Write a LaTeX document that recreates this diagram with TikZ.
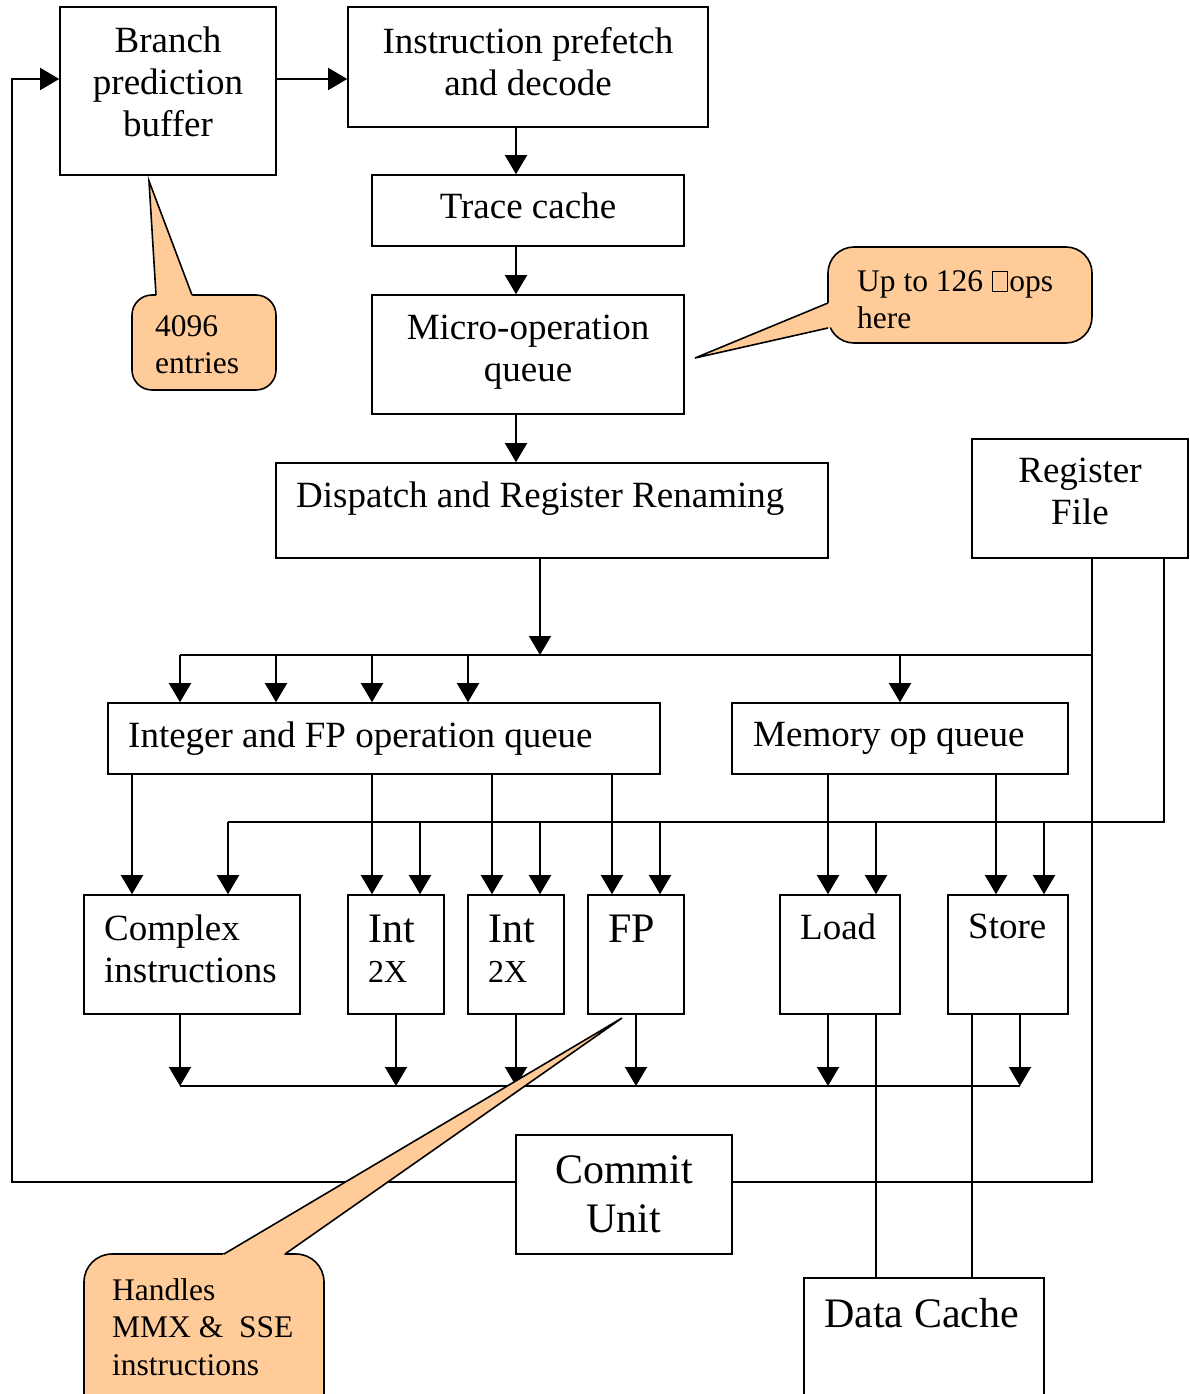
\documentclass[tikz,border=0pt]{standalone}
\usepackage{fontspec}
\setmainfont{Liberation Serif}
\usetikzlibrary{arrows.meta,fit,calc}

\definecolor{callfill}{RGB}{255,204,153}

% placeholder glyph box as printed in the note text
\newcommand{\notdefglyph}{\kern0.03em{\fboxsep=0pt\fboxrule=0.9pt\fbox{\rule{0pt}{0.62em}\hspace{0.46em}}}\kern0.03em}

\begin{document}
\begin{tikzpicture}[x=1pt,y=-1pt,
  box/.style={draw, line width=1.6pt, inner sep=0pt},
  wire/.style={line width=1.6pt},
  arr/.style={wire, -{Triangle[length=19pt,width=22pt]}},
  txt/.style={inner sep=0pt, font=\fontsize{37}{42}\selectfont},
  bigtxt/.style={inner sep=0pt, font=\fontsize{42}{49}\selectfont},
  smalltxt/.style={inner sep=0pt, font=\fontsize{32}{37}\selectfont},
  notetxt/.style={inner sep=0pt, font=\fontsize{31.5}{37.5}\selectfont, anchor=north west, align=left},
  callout/.style={draw, line width=1.6pt, fill=callfill},
]
\useasboundingbox (0,0) rectangle (1190,1394);

% ---- blocks ----
\node[box, fit={(60,7) (276,175)}] (bpb) {};
\node[box, fit={(348,7) (708,127)}] (ipd) {};
\node[box, fit={(372,175) (684,246)}] (tc) {};
\node[box, fit={(372,295) (684,414)}] (uq) {};
\node[box, fit={(276,463) (828,558)}] (drr) {};
\node[box, fit={(972,439) (1188,558)}] (rf) {};
\node[box, fit={(108,703) (660,774)}] (ifq) {};
\node[box, fit={(732,703) (1068,774)}] (moq) {};
\node[box, fit={(84,895) (300,1014)}] (cx) {};
\node[box, fit={(348,895) (444,1014)}] (int1) {};
\node[box, fit={(468,895) (564,1014)}] (int2) {};
\node[box, fit={(588,895) (684,1014)}] (fp) {};
\node[box, fit={(780,895) (900,1014)}] (ld) {};
\node[box, fit={(948,895) (1068,1014)}] (st) {};
\node[box, fit={(516,1135) (732,1254)}] (cu) {};
\node[box, fit={(804,1278) (1044,1430)}] (dc) {};

% ---- block labels ----
\node[txt, anchor=north, align=center] at (168,27) {Branch\\prediction\\buffer};
\node[txt, anchor=north, align=center] at (528,27) {Instruction prefetch\\and decode};
\node[txt, anchor=north] at (528,193) {Trace cache};
\node[txt, anchor=north, align=center] at (528,315) {Micro-operation\\queue};
\node[txt, anchor=north west] at (296,482) {Dispatch and Register Renaming};
\node[txt, anchor=north, align=center] at (1080,458) {Register\\File};
\node[txt, anchor=north west] at (128,722) {Integer and FP operation queue};
\node[txt, anchor=north west] at (753,722) {Memory op queue};
\node[txt, anchor=north west, align=left] at (104,915) {Complex\\instructions};
\node[bigtxt, anchor=north west] at (368,915) {Int};
\node[smalltxt, anchor=base west] at (368,982) {2X};
\node[bigtxt, anchor=north west] at (488,915) {Int};
\node[smalltxt, anchor=base west] at (488,982) {2X};
\node[bigtxt, anchor=north west] at (608,915) {FP};
\node[txt, anchor=north west] at (800,914) {Load};
\node[txt, anchor=north west] at (968,914) {Store};
\node[bigtxt, anchor=north, align=center] at (624,1155) {Commit\\Unit};
\node[bigtxt, anchor=north west] at (824,1298) {Data Cache};

% ---- front end ----
\draw[arr] (bpb.east |- 0,79) -- (ipd.west |- 0,79);
\draw[arr] (ipd.south -| 516,0) -- (tc.north -| 516,0);
\draw[arr] (tc.south -| 516,0) -- (uq.north -| 516,0);
\draw[arr] (uq.south -| 516,0) -- (drr.north -| 516,0);

% ---- dispatch bus ----
\coordinate (busT) at (540,655);
\draw[arr] (drr.south -| busT) -- (busT);
\draw[wire] (180,655) -- (1092,655);
\foreach \x in {180,276,372,468}
  \draw[arr] (\x,655) -- (ifq.north -| \x,0);
\draw[arr] (900,655) -- (moq.north -| 900,0);

% ---- register file operand bus ----
\draw[wire] (rf.south -| 1164,0) -- (1164,822) -- (228,822);
\draw[arr] (228,822) -- (cx.north -| 228,0);
\draw[arr] (420,822) -- (int1.north -| 420,0);
\draw[arr] (540,822) -- (int2.north -| 540,0);
\draw[arr] (660,822) -- (fp.north -| 660,0);
\draw[arr] (876,822) -- (ld.north -| 876,0);
\draw[arr] (1044,822) -- (st.north -| 1044,0);

% ---- queues to execution units ----
\draw[arr] (ifq.south -| 132,0) -- (cx.north -| 132,0);
\draw[arr] (ifq.south -| 372,0) -- (int1.north -| 372,0);
\draw[arr] (ifq.south -| 492,0) -- (int2.north -| 492,0);
\draw[arr] (ifq.south -| 612,0) -- (fp.north -| 612,0);
\draw[arr] (moq.south -| 828,0) -- (ld.north -| 828,0);
\draw[arr] (moq.south -| 996,0) -- (st.north -| 996,0);

% ---- result bus ----
\draw[arr] (cx.south -| 180,0) -- (180,1086);
\draw[arr] (int1.south -| 396,0) -- (396,1086);
\draw[arr] (int2.south -| 516,0) -- (516,1086);
\draw[arr] (fp.south -| 636,0) -- (636,1086);
\draw[arr] (ld.south -| 828,0) -- (828,1086);
\draw[arr] (st.south -| 1020,0) -- (1020,1086);
\draw[wire] (180,1086) -- (1020,1086);

% ---- memory side ----
\draw[wire] (ld.south -| 876,0) -- (dc.north -| 876,0);
\draw[wire] (st.south -| 972,0) -- (dc.north -| 972,0);

% ---- commit paths ----
\draw[arr] (cu.west |- 0,1182) -- (12,1182) -- (12,79) -- (bpb.west |- 0,79);
\draw[wire] (rf.south -| 1092,0) -- (1092,1182) -- (cu.east |- 0,1182);

% ---- notes ----
\draw[callout, rounded corners=20pt] (132,295) rectangle (276,390);
\coordinate (n1t) at (149,181);
\coordinate (n1a) at (156,295);
\coordinate (n1b) at (192,295);
\fill[callfill] (n1t) -- ($(n1t)!1.04!(n1a)$) -- ($(n1t)!1.04!(n1b)$) -- cycle;
\draw[wire] (n1a) -- (n1t) -- (n1b);
\node[notetxt] at (155,315) {4096\\entries};

\draw[callout, rounded corners=26pt] (828,247) rectangle (1092,343);
\coordinate (n2t) at (695,358);
\coordinate (n2a) at (828,303);
\coordinate (n2b) at (828,328);
\fill[callfill] (n2t) -- ($(n2t)!1.04!(n2a)$) -- ($(n2t)!1.04!(n2b)$) -- cycle;
\draw[wire] (n2a) -- (n2t) -- (n2b);
\node[notetxt] at (857,270) {Up to 126 \notdefglyph ops\\here};

\draw[callout, rounded corners=28pt] (84,1254) rectangle (324,1440);
\coordinate (n3t) at (622,1018);
\coordinate (n3a) at (224,1254);
\coordinate (n3b) at (285,1254);
\fill[callfill] (n3t) -- ($(n3t)!1.02!(n3a)$) -- ($(n3t)!1.02!(n3b)$) -- cycle;
\draw[wire] (n3a) -- (n3t) -- (n3b);
\node[notetxt] at (112,1278) {Handles\\MMX \&\ \ SSE\\instructions};

\end{tikzpicture}
\end{document}
